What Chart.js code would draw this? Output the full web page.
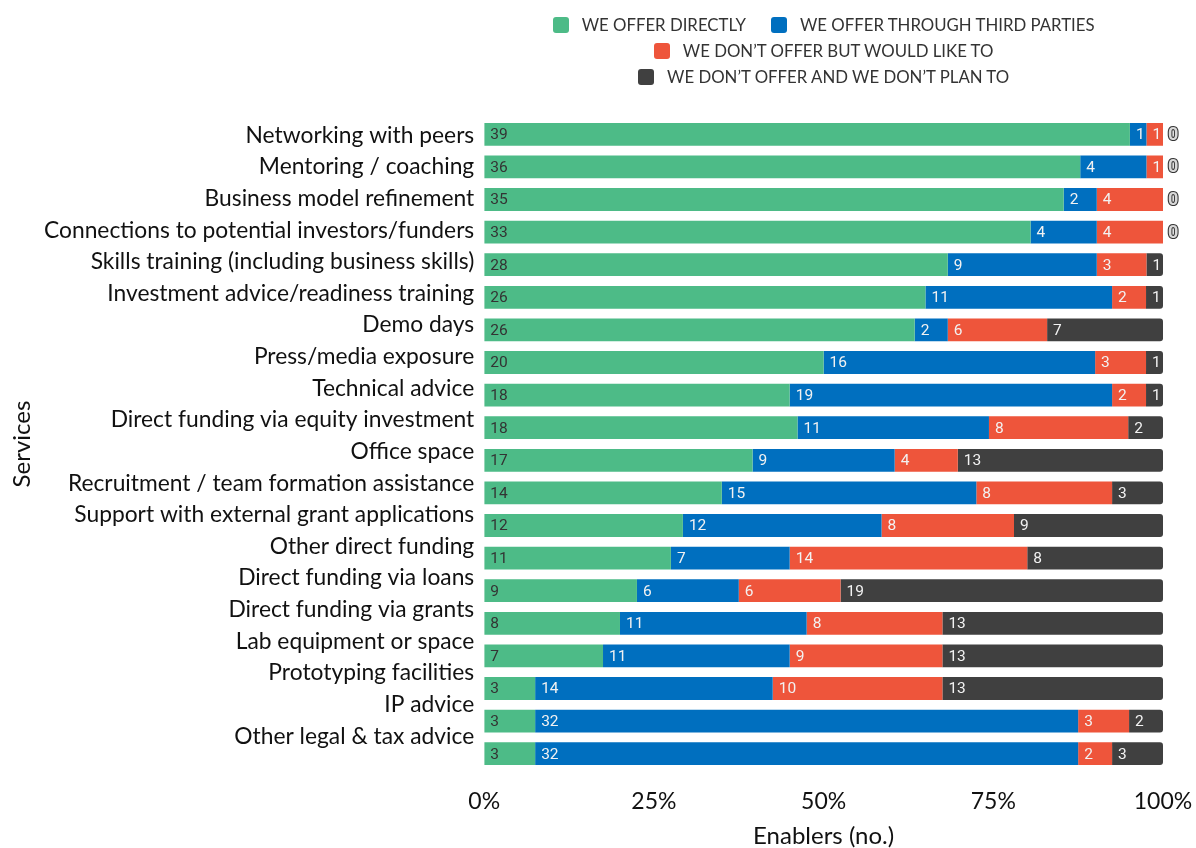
<!DOCTYPE html>
<html lang="en">
<head>
<meta charset="UTF-8">
<title>Services offered by enablers</title>
<script src="https://cdn.jsdelivr.net/npm/chart.js@4.4.1/dist/chart.umd.min.js"></script>
<style>
  body { margin: 0; background: #fff; }
  #wrap { position: relative; width: 1196px; height: 848px; }
  #legend {
    position: absolute; top: 14px; width: 580px;
    display: flex; flex-wrap: wrap; justify-content: center;
    row-gap: 5px; column-gap: 25px;
    font-family: Lato, sans-serif; font-size: 16.8px; color: #333;
  }
  .item { display: flex; align-items: center; gap: 13px; height: 21px; }
  .box { width: 16px; height: 16px; border-radius: 3px; }
</style>
</head>
<body>
<div id="wrap">
  <div id="legend"></div>
  <canvas id="services" width="1196" height="848"></canvas>
</div>

<script>
  var services = [
    "Networking with peers",
    "Mentoring / coaching",
    "Business model refinement",
    "Connections to potential investors/funders",
    "Skills training (including business skills)",
    "Investment advice/readiness training",
    "Demo days",
    "Press/media exposure",
    "Technical advice",
    "Direct funding via equity investment",
    "Office space",
    "Recruitment / team formation assistance",
    "Support with external grant applications",
    "Other direct funding",
    "Direct funding via loans",
    "Direct funding via grants",
    "Lab equipment or space",
    "Prototyping facilities",
    "IP advice",
    "Other legal & tax advice"
  ];

  var offerDirectly = [39, 36, 35, 33, 28, 26, 26, 20, 18, 18, 17, 14, 12, 11, 9, 8, 7, 3, 3, 3];
  var offerThirdParty = [1, 4, 2, 4, 9, 11, 2, 16, 19, 11, 9, 15, 12, 7, 6, 11, 11, 14, 32, 32];
  var wouldLike = [1, 1, 4, 4, 3, 2, 6, 3, 2, 8, 4, 8, 8, 14, 6, 8, 9, 10, 3, 2];
  var noPlan = [0, 0, 0, 0, 1, 1, 7, 1, 1, 2, 13, 3, 9, 8, 19, 13, 13, 13, 2, 3];

  var seriesNames = [
    "WE OFFER DIRECTLY",
    "WE OFFER THROUGH THIRD PARTIES",
    "WE DON\u2019T OFFER BUT WOULD LIKE TO",
    "WE DON\u2019T OFFER AND WE DON\u2019T PLAN TO"
  ];
  var seriesColors = ["#4dbb87", "#006fbf", "#ee553b", "#404040"];
  var xTicks = [0, 25, 50, 75, 100];

  var series = [offerDirectly, offerThirdParty, wouldLike, noPlan];

  // each row is shown as a share of its own total
  var totals = services.map((s, i) => series.reduce((sum, arr) => sum + arr[i], 0));

  var datasets = series.map((arr, k) => ({
    label: seriesNames[k],
    counts: arr,
    data: arr.map((v, i) => v / totals[i] * 100),
    backgroundColor: seriesColors[k],
    borderWidth: 0,
    borderSkipped: false,
    borderRadius: k === 3 ? { topLeft: 0, bottomLeft: 0, topRight: 3, bottomRight: 3 } : 0,
    barPercentage: 0.7,
    categoryPercentage: 1
  }));

  // count written inside each segment, zeros just past the bar end
  var segmentLabels = {
    id: "segmentLabels",
    afterDatasetsDraw(chart) {
      let ctx = chart.ctx;
      ctx.save();
      ctx.textBaseline = "middle";
      ctx.textAlign = "left";
      chart.data.datasets.forEach((ds, di) => {
        chart.getDatasetMeta(di).data.forEach((bar, i) => {
          let n = ds.counts[i];
          if (n === 0) {
            ctx.font = "bold 18px Roboto";
            ctx.lineWidth = 2.2;
            ctx.strokeStyle = "#333";
            ctx.fillStyle = "#d8d8d8";
            ctx.strokeText("0", bar.x + 5, bar.y + 1);
            ctx.fillText("0", bar.x + 5, bar.y + 1);
          } else {
            ctx.font = "15.5px Roboto";
            ctx.fillStyle = di === 0 ? "#333" : "#f2f2f2";
            ctx.fillText(String(n), Math.min(bar.base, bar.x) + 6, bar.y + 1);
          }
        });
      });
      ctx.restore();
    }
  };

  var chart = new Chart("services", {
    type: "bar",
    data: { labels: services, datasets: datasets },
    plugins: [segmentLabels],
    options: {
      indexAxis: "y",
      responsive: false,
      animation: false,
      layout: { padding: { top: 118, right: 33, bottom: 0, left: 0 } },
      plugins: {
        legend: { display: false },
        tooltip: { enabled: false }
      },
      scales: {
        x: {
          stacked: true,
          min: 0,
          max: 100,
          afterBuildTicks: (axis) => { axis.ticks = xTicks.map(v => ({ value: v })); },
          afterFit: (axis) => { axis.paddingLeft = 0; axis.paddingRight = 0; },
          grid: { display: false, drawTicks: false },
          border: { display: false },
          ticks: {
            padding: 20.5,
            color: "#111",
            font: { family: "Lato", size: 23, lineHeight: 1 },
            callback: (v) => v + "%"
          },
          title: {
            display: true,
            text: "Enablers (no.)",
            color: "#111",
            font: { family: "Lato", size: 24, lineHeight: 0.5 },
            padding: { top: -4, bottom: 6 }
          }
        },
        y: {
          stacked: true,
          display: false
        },
        // category names sit on their own axis, spaced a little tighter than the bars
        yLabels: {
          type: "linear",
          position: "left",
          offset: false,
          reverse: true,
          min: -0.55,
          max: 20.07,
          afterBuildTicks: (axis) => { axis.ticks = services.map((s, i) => ({ value: i })); },
          grid: { display: false, drawTicks: false },
          border: { display: false },
          ticks: {
            autoSkip: false,
            padding: 10,
            color: "#111",
            font: { family: "Lato", size: 22.8 },
            callback: (v) => services[v]
          },
          title: {
            display: true,
            text: "Services",
            color: "#111",
            font: { family: "Lato", size: 24, lineHeight: 1 },
            padding: { top: 10, bottom: 0 }
          }
        }
      }
    }
  });

  // legend above the plot area, centred on it
  var legend = document.getElementById("legend");
  seriesNames.forEach((name, k) => {
    let item = document.createElement("div");
    item.className = "item";
    let box = document.createElement("span");
    box.className = "box";
    box.style.background = seriesColors[k];
    let text = document.createElement("span");
    text.textContent = name;
    item.appendChild(box);
    item.appendChild(text);
    legend.appendChild(item);
  });
  var area = chart.chartArea;
  legend.style.left = ((area.left + area.right) / 2 - 290) + "px";
</script>
</body>
</html>
